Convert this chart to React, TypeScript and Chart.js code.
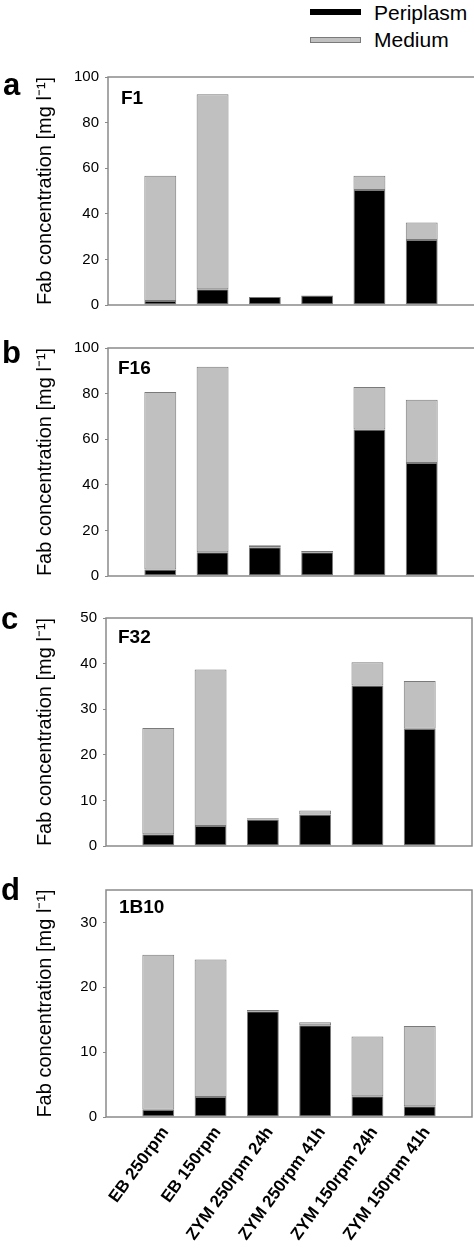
import React, { useEffect, useRef } from 'react';
import { Chart, registerables } from 'chart.js';

Chart.register(...registerables);

// ---------- data ----------
const categories = ['EB 250rpm', 'EB 150rpm', 'ZYM 250rpm 24h', 'ZYM 250rpm 41h', 'ZYM 150rpm 24h', 'ZYM 150rpm 41h'];
const seriesNames = ['Periplasm', 'Medium'];
const yTitle = 'Fab concentration [mg l\u207B\u00B9]';

const f1Periplasm = [1.8, 6.9, 3.5, 4.2, 50.4, 28.5];
const f1Medium = [54.9, 85.5, 0, 0, 6.3, 7.7];
const f1Ticks = [0, 20, 40, 60, 80, 100];
const f1Max = 100;

const f16Periplasm = [2.9, 10.4, 12.6, 10.4, 64.2, 49.6];
const f16Medium = [77.8, 81.4, 0.9, 0.6, 18.7, 27.7];
const f16Ticks = [0, 20, 40, 60, 80, 100];
const f16Max = 100;

const f32Periplasm = [2.55, 4.4, 5.8, 6.9, 35.2, 25.7];
const f32Medium = [23.35, 34.3, 0.3, 0.9, 5.1, 10.5];
const f32Ticks = [0, 10, 20, 30, 40, 50];
const f32Max = 50;

const b10Periplasm = [1.1, 3.1, 16.3, 14.15, 3.2, 1.65];
const b10Medium = [23.9, 21.2, 0.2, 0.45, 9.2, 12.4];
const b10Ticks = [0, 10, 20, 30];
const b10Max = 35;

const panelTags = ['F1', 'F16', 'F32', '1B10'];
const panelLetters = ['a', 'b', 'c', 'd'];

// ---------- styles / layout ----------
const FONT = '"Liberation Sans", Arial, Helvetica, sans-serif';
const PERI_COLOR = '#000000';
const MED_COLOR = '#c0c0c0';
const BAR_BORDER = '#7a7a7a';
const BOX_COLOR = '#8a8a8a';

type Layout = {
  top: number; height: number; yWidth: number; padRight: number; padBottom: number;
  xHeight: number; showX: boolean; drawRight: boolean;
  tagDx: number; tagDy: number; letterX: number; letterY: number;
};

const layouts: Layout[] = [
  { top: 57, height: 258, yWidth: 108, padRight: 0, padBottom: 10, xHeight: 0, showX: false, drawRight: false, tagDx: 13, tagDy: 27, letterX: 3, letterY: 38 },
  { top: 328, height: 258, yWidth: 108, padRight: 0, padBottom: 10, xHeight: 0, showX: false, drawRight: false, tagDx: 10, tagDy: 26, letterX: 2, letterY: 35 },
  { top: 598, height: 258, yWidth: 106, padRight: 2, padBottom: 10, xHeight: 0, showX: false, drawRight: true, tagDx: 12, tagDy: 25, letterX: 1, letterY: 31 },
  { top: 870, height: 381, yWidth: 106, padRight: 2, padBottom: 0, xHeight: 134, showX: true, drawRight: true, tagDx: 13, tagDy: 23, letterX: 1, letterY: 30 },
];

const panelData = [
  { peri: f1Periplasm, med: f1Medium, ticks: f1Ticks, max: f1Max },
  { peri: f16Periplasm, med: f16Medium, ticks: f16Ticks, max: f16Max },
  { peri: f32Periplasm, med: f32Medium, ticks: f32Ticks, max: f32Max },
  { peri: b10Periplasm, med: b10Medium, ticks: b10Ticks, max: b10Max },
];

const decorPlugin = {
  id: 'panelDecor',
  afterDatasetsDraw(chart: any, _args: any, opts: any) {
    const { ctx, chartArea } = chart;
    const { left, top, right, bottom } = chartArea;
    ctx.save();
    ctx.strokeStyle = BOX_COLOR;
    ctx.lineWidth = 1.5;
    ctx.beginPath();
    if (opts.drawRight) {
      ctx.moveTo(right, top);
      ctx.lineTo(right, bottom);
    }
    ctx.moveTo(right + (opts.drawRight ? 0.75 : 0), top);
    ctx.lineTo(left, top);
    ctx.lineTo(left, bottom);
    ctx.lineTo(right + (opts.drawRight ? 0.75 : 0), bottom);
    ctx.stroke();
    ctx.fillStyle = '#000';
    ctx.textBaseline = 'alphabetic';
    ctx.textAlign = 'left';
    ctx.font = `bold 19px ${FONT}`;
    ctx.fillText(opts.tag, left + opts.tagDx, top + opts.tagDy);
    ctx.font = `bold 31px ${FONT}`;
    ctx.fillText(opts.letter, opts.letterX, opts.letterY);
    ctx.restore();
  },
};

function Panel({ index }: { index: number }) {
  const ref = useRef<HTMLCanvasElement | null>(null);
  const lay = layouts[index];
  const d = panelData[index];

  useEffect(() => {
    if (!ref.current) return;
    const labels = ['', ...categories, ''];
    const chart = new Chart(ref.current, {
      type: 'bar',
      data: {
        labels,
        datasets: [
          {
            label: seriesNames[0],
            data: [null, ...d.peri, null] as any,
            backgroundColor: PERI_COLOR,
            borderColor: BAR_BORDER,
            borderWidth: 1,
            borderSkipped: false,
            categoryPercentage: 1,
            barPercentage: 0.61,
          },
          {
            label: seriesNames[1],
            data: [null, ...d.med, null] as any,
            backgroundColor: MED_COLOR,
            borderColor: BAR_BORDER,
            borderWidth: 1,
            borderSkipped: false,
            categoryPercentage: 1,
            barPercentage: 0.61,
          },
        ],
      },
      options: {
        animation: false,
        responsive: true,
        maintainAspectRatio: false,
        layout: { padding: { top: 20, bottom: lay.padBottom, left: 0, right: lay.padRight } },
        plugins: {
          legend: { display: false },
          tooltip: { enabled: false },
          panelDecor: {
            tag: panelTags[index], letter: panelLetters[index], drawRight: lay.drawRight,
            tagDx: lay.tagDx, tagDy: lay.tagDy, letterX: lay.letterX, letterY: lay.letterY,
          },
        } as any,
        scales: {
          x: {
            stacked: true,
            offset: false,
            grid: { display: false, drawTicks: false },
            border: { display: false },
            ticks: {
              display: lay.showX,
              autoSkip: false,
              minRotation: 54,
              maxRotation: 54,
              padding: 6,
              labelOffset: 7,
              color: '#000',
              font: { family: FONT, size: 17, weight: 'bold' },
            },
            afterFit: (s: any) => {
              s.height = lay.xHeight;
              s.paddingLeft = 0;
              s.paddingRight = 0;
            },
          },
          y: {
            stacked: true,
            min: 0,
            max: d.max,
            grid: { drawOnChartArea: false, drawTicks: true, tickLength: 3, color: BOX_COLOR, lineWidth: 1 },
            border: { display: false },
            afterBuildTicks: (s: any) => {
              s.ticks = d.ticks.map((v) => ({ value: v }));
            },
            ticks: {
              padding: 6,
              color: '#000',
              font: { family: FONT, size: 15 },
            },
            title: {
              display: true,
              text: yTitle,
              color: '#000',
              font: { family: FONT, size: 20 },
              padding: { top: 33, bottom: 0 },
            },
            afterFit: (s: any) => {
              s.width = lay.yWidth;
              s.paddingTop = 0;
              s.paddingBottom = 0;
            },
          },
        },
      },
      plugins: [decorPlugin],
    });
    return () => chart.destroy();
  }, []);

  return (
    <div style={{ position: 'absolute', left: 0, top: lay.top, width: 474, height: lay.height }}>
      <canvas ref={ref} />
    </div>
  );
}

function Legend() {
  const text: React.CSSProperties = {
    position: 'absolute', left: 374, fontFamily: FONT, fontSize: 21, lineHeight: '21px',
    color: '#000', whiteSpace: 'nowrap',
  };
  return (
    <>
      <div style={{ position: 'absolute', left: 310, top: 9, width: 51, height: 6, background: PERI_COLOR }} />
      <span style={{ ...text, top: 1.5 }}>{seriesNames[0]}</span>
      <div style={{ position: 'absolute', left: 310, top: 36.5, width: 49, height: 4.5, background: MED_COLOR, border: `1px solid ${BAR_BORDER}` }} />
      <span style={{ ...text, top: 29 }}>{seriesNames[1]}</span>
    </>
  );
}

export default function App() {
  return (
    <div style={{ position: 'absolute', left: 0, top: 0, width: 474, height: 1251, overflow: 'hidden', background: '#fff' }}>
      <Legend />
      {layouts.map((_, i) => (
        <Panel key={i} index={i} />
      ))}
    </div>
  );
}
